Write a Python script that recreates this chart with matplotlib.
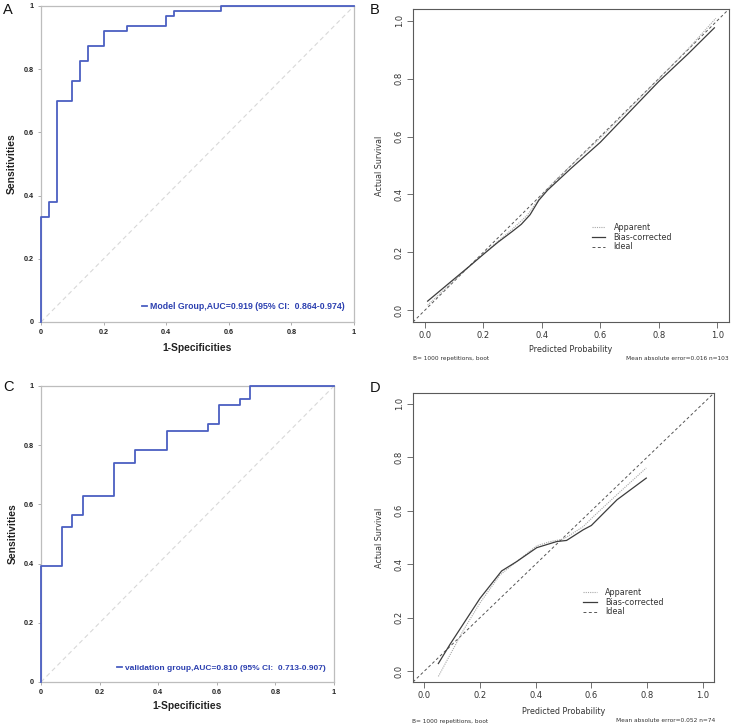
import matplotlib
matplotlib.use("Agg")
import matplotlib.pyplot as plt
from matplotlib.lines import Line2D

# --- ROC data (step corners: 1-specificity, sensitivity) ---
model_fpr = [0, 0, 0.025, 0.05, 0.10, 0.125, 0.15, 0.20, 0.275, 0.40, 0.425, 0.575, 1.0]
model_tpr = [0, 0.333, 0.381, 0.698, 0.762, 0.825, 0.873, 0.921, 0.937, 0.968, 0.984, 1.0, 1.0]
model_label = "Model Group,AUC=0.919 (95% CI:  0.864-0.974)"

valid_fpr = [0, 0, 0.071, 0.107, 0.143, 0.25, 0.321, 0.429, 0.571, 0.607, 0.679, 0.714, 1.0]
valid_tpr = [0, 0.391, 0.522, 0.565, 0.630, 0.739, 0.783, 0.848, 0.870, 0.935, 0.957, 1.0, 1.0]
valid_label = "validation group,AUC=0.810 (95% CI:  0.713-0.907)"

# --- calibration data ---
b_app_x = [0.01, 0.10, 0.20, 0.30, 0.35, 0.40, 0.45, 0.50, 0.60, 0.70, 0.80, 0.90, 0.995]
b_app_y = [0.018, 0.103, 0.195, 0.281, 0.328, 0.398, 0.452, 0.500, 0.595, 0.697, 0.799, 0.902, 1.008]
b_bc_x = [0.01, 0.10, 0.15, 0.20, 0.25, 0.30, 0.33, 0.36, 0.39, 0.42, 0.50, 0.60, 0.70, 0.80, 0.90, 0.99]
b_bc_y = [0.032, 0.108, 0.150, 0.193, 0.235, 0.273, 0.297, 0.330, 0.380, 0.415, 0.490, 0.580, 0.685, 0.790, 0.885, 0.975]
b_footer = ["B= 1000 repetitions, boot", "Mean absolute error=0.016 n=103"]

d_app_x = [0.051, 0.141, 0.20, 0.272, 0.332, 0.404, 0.45, 0.499, 0.525, 0.571, 0.608, 0.70, 0.797]
d_app_y = [-0.019, 0.154, 0.255, 0.360, 0.410, 0.469, 0.484, 0.494, 0.510, 0.541, 0.579, 0.668, 0.760]
d_bc_x = [0.051, 0.093, 0.20, 0.278, 0.332, 0.404, 0.476, 0.511, 0.571, 0.60, 0.692, 0.797]
d_bc_y = [0.029, 0.101, 0.272, 0.375, 0.410, 0.462, 0.485, 0.489, 0.529, 0.545, 0.641, 0.722]
d_footer = ["B= 1000 repetitions, boot", "Mean absolute error=0.052 n=74"]

roc_ticks = [0, 0.2, 0.4, 0.6, 0.8, 1.0]
roc_ticklabels = ["0", "0.2", "0.4", "0.6", "0.8", "1"]
cal_ticks = [0.0, 0.2, 0.4, 0.6, 0.8, 1.0]
cal_ticklabels = ["0.0", "0.2", "0.4", "0.6", "0.8", "1.0"]

W, H = 734, 727
ROC_BLUE = "#4b5fc2"
TEXT_BLUE = "#2c40b0"
ARIAL = "Liberation Sans"


def px_axes(fig, left, top, right, bottom):
    return fig.add_axes([left / W, 1 - bottom / H, (right - left) / W, (bottom - top) / H])


def roc_panel(ax, fpr, tpr, label, fs):
    ax.axline((0, 0), slope=1, color="#d8d8d8", lw=0.8, ls=(0, (4, 3)))
    ax.plot(fpr, tpr, drawstyle="steps-post", color=ROC_BLUE, lw=1.3, label=label,
            clip_on=False, zorder=5)
    ax.set_xlim(0, 1)
    ax.set_ylim(0, 1)
    ax.set_xticks(roc_ticks)
    ax.set_xticklabels(roc_ticklabels)
    ax.set_yticks(roc_ticks)
    ax.set_yticklabels(roc_ticklabels)
    for s in ax.spines.values():
        s.set_color("#bdbdbd")
        s.set_linewidth(0.9)
    ax.tick_params(length=2.5, width=0.6, color="#a0a0a0", labelsize=5.2, pad=2.5,
                   labelcolor="#222222")
    for lab in ax.get_xticklabels() + ax.get_yticklabels():
        lab.set_fontweight("bold")
        lab.set_family(ARIAL)
    ax.set_xlabel("1-Specificities", fontsize=7.4, fontweight="bold", family=ARIAL, color="#222222")
    ax.set_ylabel("Sensitivities", fontsize=7.4, fontweight="bold", family=ARIAL, color="#222222")
    ax.xaxis.set_label_coords(0.5, -0.065)
    ax.yaxis.set_label_coords(-0.078, 0.5)
    leg = ax.legend(loc="lower right", bbox_to_anchor=(0.985, 0.02), frameon=False,
                    handlelength=0.6, handletextpad=0.35, borderpad=0,
                    prop=dict(family=ARIAL, weight="bold", size=fs))
    for t in leg.get_texts():
        t.set_color(TEXT_BLUE)


def cal_panel(ax, app_x, app_y, bc_x, bc_y, xlab_y, ylab_x, leg_y):
    ax.axline((0, 0), slope=1, color="#555555", lw=0.7, ls=(0, (3, 2.5)))
    ax.plot(app_x, app_y, color="#a8a8a8", lw=0.8, ls=(0, (1, 1)))
    ax.plot(bc_x, bc_y, color="#3c3c3c", lw=0.9)
    ax.set_xlim(-0.04, 1.04)
    ax.set_ylim(-0.04, 1.04)
    ax.set_xticks(cal_ticks)
    ax.set_xticklabels(cal_ticklabels)
    ax.set_yticks(cal_ticks)
    ax.set_yticklabels(cal_ticklabels)
    for s in ax.spines.values():
        s.set_color("#5a5a5a")
        s.set_linewidth(0.8)
    ax.tick_params(direction="out", length=4, width=0.6, color="#5a5a5a", labelsize=6,
                   pad=2.5, labelcolor="#333333")
    ax.tick_params(axis="y", labelrotation=90)
    for lab in ax.get_yticklabels():
        lab.set_va("center")
    ax.set_xlabel("Predicted Probability", fontsize=5.8, color="#333333")
    ax.set_ylabel("Actual Survival", fontsize=5.8, color="#333333")
    ax.xaxis.set_label_coords(0.5, xlab_y)
    ax.yaxis.set_label_coords(ylab_x, 0.5)
    handles = [
        Line2D([], [], color="#a8a8a8", lw=0.8, ls=(0, (1, 1))),
        Line2D([], [], color="#3c3c3c", lw=0.9),
        Line2D([], [], color="#555555", lw=0.7, ls=(0, (3, 2.5))),
    ]
    ax.legend(handles, ["Apparent", "Bias-corrected", "Ideal"], loc="upper left",
              bbox_to_anchor=(0.553, leg_y), frameon=False, fontsize=5.8,
              handlelength=1.7, handletextpad=1.0, labelspacing=0.1, borderpad=0,
              labelcolor="#333333")


fig = plt.figure(figsize=(W / 100, H / 100), dpi=100)

ax_a = px_axes(fig, 41, 6, 354, 322)
roc_panel(ax_a, model_fpr, model_tpr, model_label, 6.3)

ax_c = px_axes(fig, 41, 386, 334, 682)
roc_panel(ax_c, valid_fpr, valid_tpr, valid_label, 6.0)

ax_b = px_axes(fig, 413, 9, 729, 322)
cal_panel(ax_b, b_app_x, b_app_y, b_bc_x, b_bc_y, -0.075, -0.092, 0.33)

ax_d = px_axes(fig, 413, 393, 714, 682)
cal_panel(ax_d, d_app_x, d_app_y, d_bc_x, d_bc_y, -0.085, -0.095, 0.34)

# footers under the calibration panels
fig.text(413 / W, 1 - 359 / H, b_footer[0], fontsize=4.2, color="#333333", ha="left", va="center")
fig.text(729 / W, 1 - 359 / H, b_footer[1], fontsize=4.2, color="#333333", ha="right", va="center")
fig.text(412 / W, 1 - 721 / H, d_footer[0], fontsize=4.2, color="#333333", ha="left", va="center")
fig.text(715 / W, 1 - 721 / H, d_footer[1], fontsize=4.2, color="#333333", ha="right", va="center")

# panel letters
for letter, x, y in [("A", 3, 3), ("B", 370, 3), ("C", 3, 380), ("D", 370, 381)]:
    fig.text(x / W, 1 - y / H, letter, fontsize=10.5, family=ARIAL, ha="left", va="top",
             color="#111111")

fig.savefig("out.png", dpi=100)
